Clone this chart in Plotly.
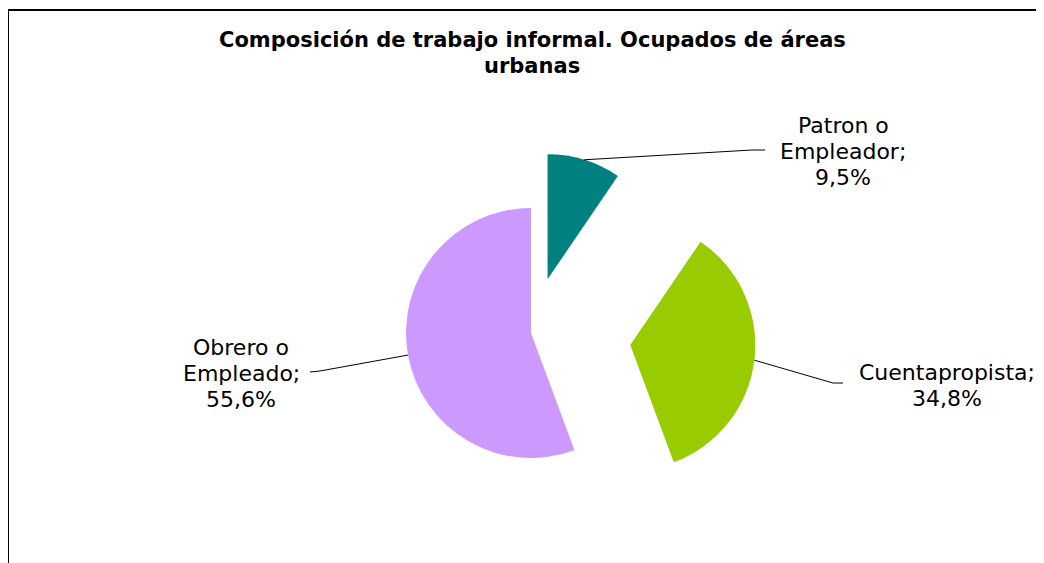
import numpy as np
import plotly.graph_objects as go

# ---- data ----
labels = ["Patron o Empleador", "Cuentapropista", "Obrero o Empleado"]
label_lines = [["Patron o", "Empleador;"], ["Cuentapropista;"], ["Obrero o", "Empleado;"]]
values = [9.5, 34.8, 55.6]
colors = ["#008080", "#99CC00", "#CC99FF"]
pulls = [0.45, 0.8, 0.0]

title_lines = ["Composición de trabajo informal. Ocupados de áreas", "urbanas"]

# ---- layout geometry (page pixels; page body has an 8px margin) ----
OFF = 8
W, H = 1036, 555
cx, cy, r = 531, 333, 125

def px(x, y):
    return (x - OFF) / W, 1 - (y - OFF) / H

half = r * (1 + max(pulls))
fx0, fy1 = px(cx - half, cy - half)
fx1, fy0 = px(cx + half, cy + half)
fy0 = max(fy0, 0.0)

# label centres (first line) and leader elbows (page pixels)
label_pos = [(843, 125), (947, 372), (241, 347)]
line_step = 26
elbows = [[(752, 150), (765, 150)], [(833, 383), (843, 383)], [(320, 371), (310, 372)]]

fig = go.Figure(go.Pie(
    labels=labels, values=values, sort=False, direction="clockwise", rotation=0,
    marker=dict(colors=colors, line=dict(width=0)), pull=pulls,
    textinfo="none", hoverinfo="label+percent", showlegend=False,
    domain=dict(x=[fx0, fx1], y=[fy0, fy1]),
))

frac = np.array(values) / np.sum(values)
cum = np.concatenate([[0], np.cumsum(frac)[:-1]])
fl, ft = px(8, 10)
shapes = [dict(type="rect", xref="paper", yref="paper",
               x0=fl, x1=1.05, y0=-0.05, y1=ft,
               line=dict(color="black", width=2), fillcolor="rgba(0,0,0,0)")]
annotations = []
for i in range(len(values)):
    mid = 2 * np.pi * (cum[i] + frac[i] / 2)
    ax_ = cx + (1 + pulls[i]) * r * np.sin(mid)
    ay_ = cy - (1 + pulls[i]) * r * np.cos(mid)
    pts = [(ax_, ay_)] + elbows[i]
    path = "M " + " L ".join("%.5f %.5f" % px(x, y) for x, y in pts)
    shapes.append(dict(type="path", xref="paper", yref="paper", path=path,
                       line=dict(color="black", width=1)))
    pct = ("%.1f%%" % values[i]).replace(".", ",")
    lines = label_lines[i] + [pct]
    for k, t in enumerate(lines):
        lx, ly = px(label_pos[i][0], label_pos[i][1] + k * line_step)
        annotations.append(dict(
            x=lx, y=ly, xref="paper", yref="paper", xanchor="center", yanchor="middle",
            text=t, showarrow=False, align="center",
            font=dict(family="DejaVu Sans", size=22, color="black")))

title_y = [40, 66]
for k, t in enumerate(title_lines):
    tx, ty = px(532, title_y[k])
    annotations.append(dict(
        x=tx, y=ty, xref="paper", yref="paper", xanchor="center", yanchor="middle",
        text="<b>%s</b>" % t, showarrow=False,
        font=dict(family="DejaVu Sans", size=21, color="black")))

fig.update_layout(
    width=W, height=H, margin=dict(l=0, r=0, t=0, b=0),
    paper_bgcolor="white", plot_bgcolor="white",
    shapes=shapes, annotations=annotations,
)

fig.write_html("out.html")
